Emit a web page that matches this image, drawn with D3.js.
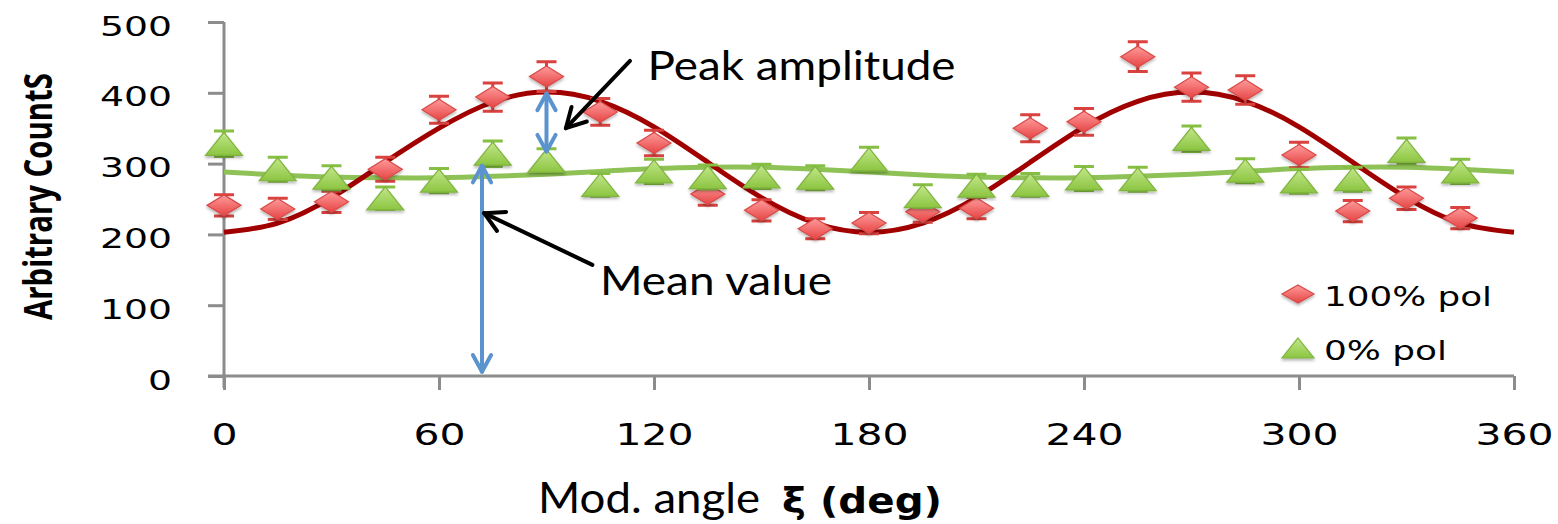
<!DOCTYPE html>
<html>
<head>
<meta charset="utf-8">
<script src="https://cdn.jsdelivr.net/npm/d3@7"></script>
<style>
  body { margin: 0; background: #fff; }
  svg { display: block; }
</style>
</head>
<body>
<div id="vis"></div>
<script>
var width  = 1558;
var height = 524;

// measured data, 15 degree steps
var angles   = [0, 15, 30, 45, 60, 75, 90, 105, 120, 135, 150, 165, 180, 195, 210, 225, 240, 255, 270, 285, 300, 315, 330, 345];
var pol100   = [241, 236, 246, 292, 376, 394, 423, 373, 329, 257, 234, 208, 216, 232, 237, 350, 359, 451, 408, 404, 312, 233, 251, 223];
var pol100Err = [15, 15, 15, 17, 19, 20, 21, 19, 18, 16, 15, 14, 15, 15, 15, 19, 19, 21, 20, 20, 18, 15, 16, 15];
var pol0     = [328, 292, 280, 251, 276, 314, 304, 270, 289, 281, 282, 280, 306, 254, 269, 270, 279, 278, 335, 290, 275, 278, 318, 289];
var pol0Err  = [18, 17, 17, 16, 17, 18, 17, 16, 17, 17, 17, 17, 17, 16, 16, 16, 17, 17, 18, 17, 17, 17, 18, 17];

// fit curves
var fitAngles = [0, 15, 30, 45, 60, 75, 90, 105, 120, 135, 150, 165, 180, 195, 210, 225, 240, 255, 270, 285, 300, 315, 330, 345, 360];
var fit100    = [203, 216, 252, 302, 350, 387, 401, 388, 352, 302, 252, 216, 203, 216, 252, 302, 352, 388, 401, 388, 352, 302, 252, 216, 203];
var fit0      = [288, 284, 281, 280, 280, 282, 285, 289, 293, 295, 295, 292, 288, 284, 281, 280, 280, 282, 285, 289, 293, 295, 295, 292, 288];

var xTicks = [0, 60, 120, 180, 240, 300, 360];
var yTicks = [0, 100, 200, 300, 400, 500];

var legendLabels = ["100% pol", "0% pol"];

var x = d3.scaleLinear().domain([0, 360]).range([224, 1514]);
var y = d3.scaleLinear().domain([0, 500]).range([376, 22]);

var svg = d3.select("#vis").append("svg")
  .attr("width", width)
  .attr("height", height);

var defs = svg.append("defs");

var gr = defs.append("linearGradient").attr("id", "gRed").attr("x1", 0).attr("y1", 0).attr("x2", 0).attr("y2", 1);
gr.append("stop").attr("offset", "0%").attr("stop-color", "#ff9a9a");
gr.append("stop").attr("offset", "100%").attr("stop-color", "#e64545");
var gg = defs.append("linearGradient").attr("id", "gGreen").attr("x1", 0).attr("y1", 0).attr("x2", 0).attr("y2", 1);
gg.append("stop").attr("offset", "0%").attr("stop-color", "#c2e68a");
gg.append("stop").attr("offset", "100%").attr("stop-color", "#8cc541");

var shadow = defs.append("filter").attr("id", "shadow").attr("x", "-30%").attr("y", "-30%").attr("width", "160%").attr("height", "170%");
shadow.append("feDropShadow").attr("dx", 0).attr("dy", 2).attr("stdDeviation", 1.6)
  .attr("flood-color", "#000").attr("flood-opacity", 0.3);

// stretch text horizontally like the (widened) original
function stretch(sel, k) {
  sel.each(function() {
    var l = this.getComputedTextLength();
    d3.select(this).attr("textLength", l * k).attr("lengthAdjust", "spacingAndGlyphs");
  });
}
function fitTo(sel, w) {
  sel.attr("textLength", w).attr("lengthAdjust", "spacingAndGlyphs");
}

var tickFont = "'DejaVu Sans', Verdana, sans-serif";

// axes
var xAxis = d3.axisBottom(x).tickValues(xTicks).tickSize(14).tickPadding(33).tickSizeOuter(0);
var yAxis = d3.axisLeft(y).tickValues(yTicks).tickSize(16).tickPadding(36).tickSizeOuter(0);

var gx = svg.append("g").attr("transform", "translate(0," + y(0) + ")").call(xAxis);
var gy = svg.append("g").attr("transform", "translate(" + x(0) + ",0)").call(yAxis);

[gx, gy].forEach(function(g) {
  g.select(".domain").attr("stroke", "#8c8c8c").attr("stroke-width", 3);
  g.selectAll(".tick line").attr("stroke", "#8c8c8c").attr("stroke-width", 3);
  g.selectAll(".tick text").attr("fill", "#000").style("font-family", tickFont);
});
gx.selectAll(".tick text").style("font-size", "31px");
gy.selectAll(".tick text").style("font-size", "26px").attr("dy", "0.5em");
gx.select(".domain").attr("d", "M" + (x(0) - 16) + ",0H" + x(360));
gy.select(".domain").attr("d", "M0," + (y(0) + 12) + "V" + y(500));
stretch(gx.selectAll(".tick text"), 1.32);
stretch(gy.selectAll(".tick text"), 1.45);

// fit lines
var line = d3.line()
  .x(function(d, i) { return x(fitAngles[i]); })
  .y(function(d) { return y(d); })
  .curve(d3.curveNatural);

svg.append("path").attr("d", line(fit0))
  .attr("fill", "none").attr("stroke", "#8fc256").attr("stroke-width", 5);
svg.append("path").attr("d", line(fit100))
  .attr("fill", "none").attr("stroke", "#a10000").attr("stroke-width", 5);

function diamond(w, h) {
  return "M0," + (-h / 2) + "L" + (w / 2) + ",0L0," + (h / 2) + "L" + (-w / 2) + ",0Z";
}
function triangle(w, h) {
  return "M0," + (-h / 2) + "L" + (w / 2) + "," + (h / 2) + "L" + (-w / 2) + "," + (h / 2) + "Z";
}

function drawSeries(vals, errs, capColor, shape, fill, stroke) {
  var g = svg.append("g");
  var pts = g.selectAll("g").data(vals).enter().append("g")
    .attr("transform", function(d, i) { return "translate(" + x(angles[i]) + "," + y(d) + ")"; });
  pts.append("path")
    .attr("d", function(d, i) {
      var e = y(d - errs[i]) - y(d);
      return "M0," + (-e) + "V" + e + "M-10," + (-e) + "H10M-10," + e + "H10";
    })
    .attr("stroke", capColor).attr("stroke-width", 3).attr("fill", "none");
  pts.append("path")
    .attr("d", shape)
    .attr("fill", fill).attr("stroke", stroke).attr("stroke-width", 1.2)
    .attr("filter", "url(#shadow)");
}

drawSeries(pol100, pol100Err, "#d9423e", diamond(34, 21), "url(#gRed)", "#d84a47");
drawSeries(pol0, pol0Err, "#86c043", triangle(37, 23), "url(#gGreen)", "#7fb43d");

// annotations (data coordinates)
var blue = "#5b93cf";
function arrowLine(x1, y1, x2, y2, color, w, head, both) {
  var g = svg.append("g").attr("stroke", color).attr("stroke-width", w)
    .attr("fill", "none").attr("stroke-linecap", "round").attr("stroke-linejoin", "round");
  g.append("path").attr("d", "M" + x1 + "," + y1 + "L" + x2 + "," + y2);
  function chev(px, py, qx, qy) {
    var a = Math.atan2(py - qy, px - qx);
    var s = 0.5;
    var ax = px - head * Math.cos(a - s), ay = py - head * Math.sin(a - s);
    var bx = px - head * Math.cos(a + s), by = py - head * Math.sin(a + s);
    g.append("path").attr("d", "M" + ax + "," + ay + "L" + px + "," + py + "L" + bx + "," + by);
  }
  chev(x2, y2, x1, y1);
  if (both) chev(x1, y1, x2, y2);
}

// peak amplitude: red peak to green level
arrowLine(x(90), y(399), x(90), y(317), blue, 4, 19, true);
// mean value: axis to mean level
arrowLine(x(72), y(297), x(72), y(6), blue, 4, 19, true);

arrowLine(x(113.3), y(445), x(95.4), y(350), "#000", 4, 22, false);
arrowLine(x(102.8), y(157), x(72.6), y(230), "#000", 4, 22, false);

var calibri = "Lato, 'Open Sans', sans-serif";
svg.append("text").attr("x", x(118.2)).attr("y", y(418))
  .style("font-family", calibri).style("font-size", "40px").text("Peak amplitude")
  .call(fitTo, 308);
svg.append("text").attr("x", x(104.9)).attr("y", y(114))
  .style("font-family", calibri).style("font-size", "41px").text("Mean value")
  .call(fitTo, 232);

// axis titles
svg.append("text").attr("x", 538).attr("y", 513)
  .style("font-family", calibri).style("font-size", "42px").text("Mod. angle")
  .call(fitTo, 222);
svg.append("text").attr("x", 782).attr("y", 513)
  .style("font-family", tickFont).style("font-weight", "bold").style("font-size", "35px")
  .text("ξ (deg)")
  .call(fitTo, 160);

svg.append("text")
  .attr("transform", "translate(52,320) rotate(-90)")
  .style("font-family", "'Open Sans', sans-serif").style("font-weight", "bold").style("font-size", "39px")
  .text("Arbitrary CountS")
  .call(fitTo, 247);

// legend
var legend = svg.append("g");
var legendShapes = [diamond(32, 18), triangle(32, 20)];
var legendFills = [["url(#gRed)", "#d84a47"], ["url(#gGreen)", "#7fb43d"]];
var legendY = [294, 348];
var legendW = [168, 123];
legendLabels.forEach(function(lab, i) {
  legend.append("path").attr("transform", "translate(1298," + legendY[i] + ")")
    .attr("d", legendShapes[i]).attr("fill", legendFills[i][0]).attr("stroke", legendFills[i][1])
    .attr("stroke-width", 1.2).attr("filter", "url(#shadow)");
  legend.append("text").attr("x", 1324).attr("y", legendY[i] + 12)
    .style("font-family", tickFont).style("font-size", "26px")
    .text(lab).call(fitTo, legendW[i]);
});
</script>
</body>
</html>
